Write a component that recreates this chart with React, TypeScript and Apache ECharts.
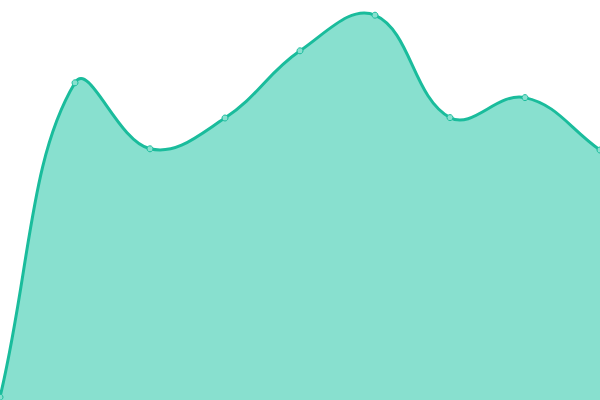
import React, { useEffect, useRef } from "react";
import * as echarts from "echarts";

const categories = ["1", "2", "3", "4", "5", "6", "7", "8", "9"];
const values = [0.7, 79.3, 62.8, 70.5, 87.3, 96.2, 70.6, 75.6, 62.5];

const LINE_COLOR = "#1abc9c";
const FILL_COLOR = "#88e0cf";
const TENSION = 0.4;

type Pt = { x: number; y: number };

function splinePath(pts: Pt[], area: { x: number; y: number; w: number; h: number }) {
  const cps: { prev: Pt; next: Pt }[] = [];
  const n = pts.length;
  const clampX = (v: number) => Math.min(Math.max(v, area.x), area.x + area.w);
  const clampY = (v: number) => Math.min(Math.max(v, area.y), area.y + area.h);
  for (let i = 0; i < n; i++) {
    const prev = pts[Math.max(i - 1, 0)];
    const cur = pts[i];
    const next = pts[Math.min(i + 1, n - 1)];
    const d01 = Math.hypot(cur.x - prev.x, cur.y - prev.y);
    const d12 = Math.hypot(next.x - cur.x, next.y - cur.y);
    let s01 = d01 / (d01 + d12);
    let s12 = d12 / (d01 + d12);
    if (isNaN(s01)) s01 = 0;
    if (isNaN(s12)) s12 = 0;
    const fa = TENSION * s01;
    const fb = TENSION * s12;
    cps.push({
      prev: {
        x: clampX(cur.x - fa * (next.x - prev.x)),
        y: clampY(cur.y - fa * (next.y - prev.y)),
      },
      next: {
        x: clampX(cur.x + fb * (next.x - prev.x)),
        y: clampY(cur.y + fb * (next.y - prev.y)),
      },
    });
  }
  let d = `M${pts[0].x},${pts[0].y}`;
  for (let i = 1; i < n; i++) {
    const a = cps[i - 1].next;
    const b = cps[i].prev;
    d += ` C${a.x},${a.y} ${b.x},${b.y} ${pts[i].x},${pts[i].y}`;
  }
  return d;
}

export default function App() {
  const ref = useRef<HTMLDivElement>(null);
  useEffect(() => {
    if (!ref.current) return;
    const chart = echarts.init(ref.current, null, { renderer: "svg" });
    chart.setOption({
      animation: false,
      grid: { left: 0, right: 0, top: 0, bottom: 0 },
      xAxis: {
        type: "category",
        data: categories,
        boundaryGap: false,
        show: false,
      },
      yAxis: { type: "value", min: 0, max: 100, show: false },
      series: [
        {
          type: "custom",
          data: values.map((v, i) => [i, v]),
          renderItem: (params: any, api: any) => {
            if (params.dataIndex !== 0) return null;
            const cs = params.coordSys;
            const pts: Pt[] = values.map((v, i) => {
              const c = api.coord([i, v]);
              return { x: c[0], y: c[1] };
            });
            const area = { x: cs.x, y: cs.y, w: cs.width, h: cs.height };
            const line = splinePath(pts, area);
            const base = api.coord([0, 0])[1];
            const fill =
              line +
              ` L${pts[pts.length - 1].x},${base} L${pts[0].x},${base} Z`;
            return {
              type: "group",
              children: [
                {
                  type: "path",
                  shape: { pathData: fill },
                  style: { fill: FILL_COLOR, stroke: null },
                },
                {
                  type: "path",
                  shape: { pathData: line },
                  style: {
                    fill: null,
                    stroke: LINE_COLOR,
                    lineWidth: 3,
                    lineJoin: "round",
                  },
                },
              ],
            };
          },
        },
        {
          type: "scatter",
          data: values,
          symbol: "circle",
          symbolSize: 6,
          z: 5,
          itemStyle: {
            color: FILL_COLOR,
            borderColor: LINE_COLOR,
            borderWidth: 1,
            opacity: 1,
          },
        },
      ],
    });
    return () => chart.dispose();
  }, []);
  return (
    <div
      ref={ref}
      style={{ position: "fixed", left: 0, top: 0, width: 600, height: 400 }}
    />
  );
}
